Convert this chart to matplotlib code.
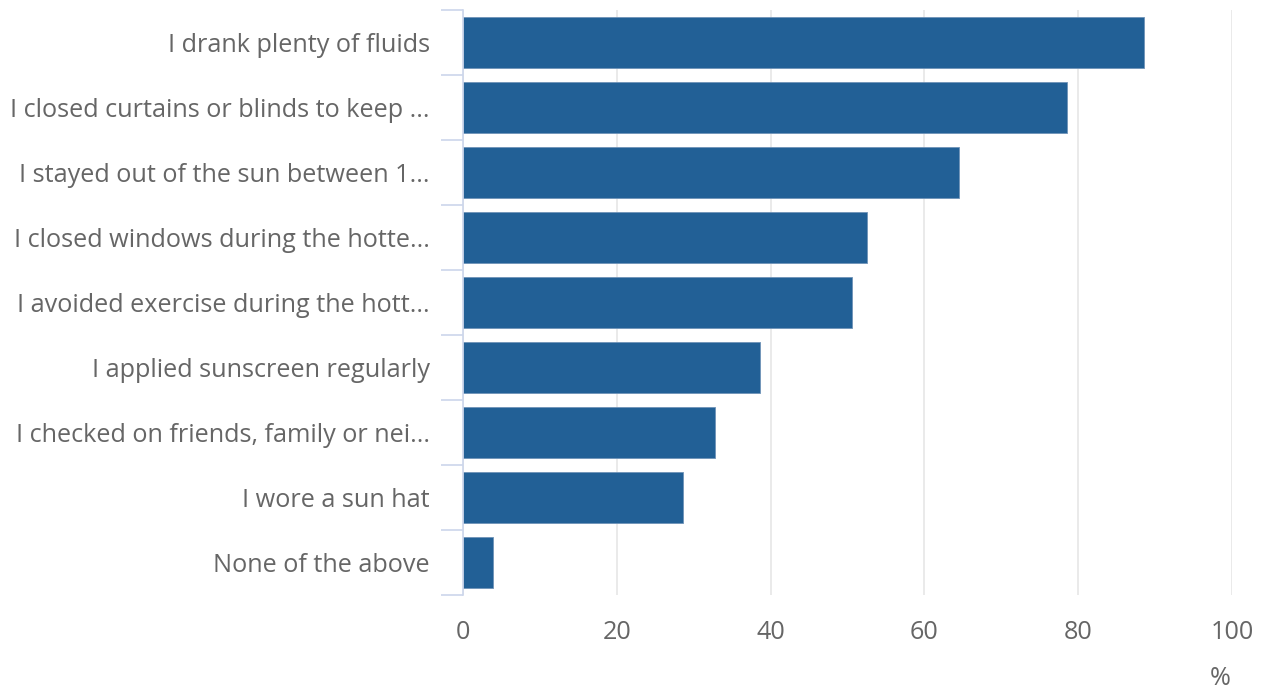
import matplotlib.pyplot as plt
import numpy as np

plt.rcParams['font.family'] = ['Open Sans', 'DejaVu Sans']

categories = [
    "I drank plenty of fluids",
    "I closed curtains or blinds to keep ...",
    "I stayed out of the sun between 1...",
    "I closed windows during the hotte...",
    "I avoided exercise during the hott...",
    "I applied sunscreen regularly",
    "I checked on friends, family or nei...",
    "I wore a sun hat",
    "None of the above",
]
values = [88.5, 78.5, 64.5, 52.5, 50.6, 38.6, 32.8, 28.6, 3.9]
x_ticks = [0, 20, 40, 60, 80, 100]

text_color = '#666666'
bar_color = '#226096'
axis_color = '#ccd6eb'
grid_color = '#e6e6e6'

fig = plt.figure(figsize=(12.61, 6.90), dpi=100)
ax = fig.add_axes([463 / 1261, 1 - 595 / 690, (1232 - 463) / 1261, (595 - 10) / 690])

y = np.arange(len(categories))
ax.barh(y, values, height=0.78, color=bar_color, edgecolor='#6f93b8', linewidth=0.6, zorder=3)

ax.set_xlim(0, 100)
ax.set_ylim(len(categories) - 0.5, -0.5)

ax.set_xticks(x_ticks)
ax.set_xticklabels([str(t) for t in x_ticks], fontsize=18.2, color=text_color)
ax.tick_params(axis='x', length=0, pad=18)
ax.xaxis.grid(True, color=grid_color, linewidth=1.2, zorder=0)

ax.set_yticks(y)
ax.set_yticklabels(categories, fontsize=18.2, color=text_color)
ax.tick_params(axis='y', which='major', length=0, pad=24)
ax.set_yticks(np.arange(len(categories) + 1) - 0.5, minor=True)
ax.tick_params(axis='y', which='minor', length=16, width=1.2, color=axis_color)

for s in ['top', 'right', 'bottom']:
    ax.spines[s].set_visible(False)
ax.spines['left'].set_color(axis_color)
ax.spines['left'].set_linewidth(1.2)
ax.spines['left'].set_zorder(4)

ax.text(0.984, -0.142, '%', transform=ax.transAxes, fontsize=18.2,
        color=text_color, ha='center', va='center')

fig.savefig('out.png', dpi=100)
